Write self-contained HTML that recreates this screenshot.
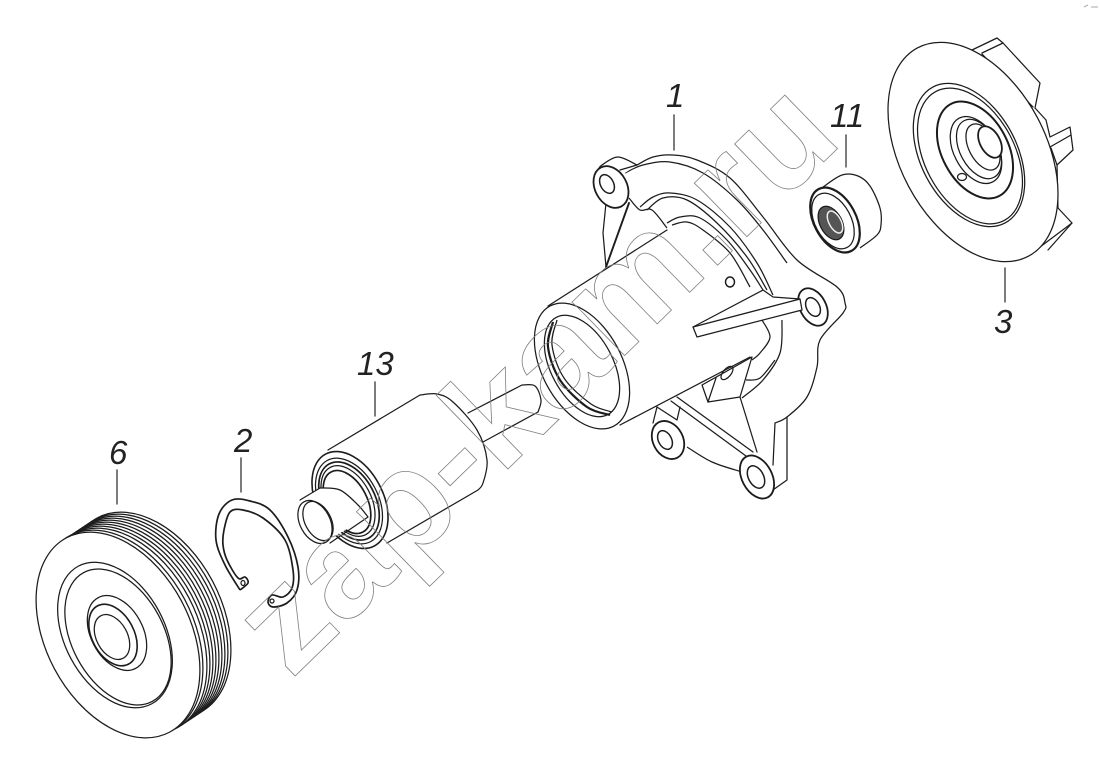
<!DOCTYPE html>
<html><head><meta charset="utf-8"><style>
html,body{margin:0;padding:0;background:#fff}
svg{display:block}
.l polyline,.l polygon,.l ellipse,.l line{stroke:#1c1c1c;stroke-width:1.25;stroke-linejoin:round;stroke-linecap:round}
.l polyline{fill:none}
.w{fill:#fff}
.n{fill:none}
.l .f{stroke:none;fill:#fff}
text.lab{font-family:"Liberation Sans",sans-serif;font-style:italic;font-size:33px;fill:#222}
text.wm{font-family:"Liberation Sans",sans-serif;font-weight:bold;font-size:142px;fill:none;stroke:#808080;stroke-width:.8}
</style></head><body>
<svg width="1100" height="766" viewBox="0 0 1100 766" xmlns="http://www.w3.org/2000/svg">
<rect width="1100" height="766" fill="#fff"/>
<g class="l">
<!-- Impeller 3 -->
<polygon class="w" points="972,50 997,38 1003,43 1040,83 1035,108 1046,120 1050,137 1070,127 1073,150 1057,165 1058,208 1072,223 1040,247 1000,200"/>
<polyline points="982,53 1003,43"/>
<polyline points="982,54 1033,107"/>
<polyline points="1050,147 1071,135"/>
<polyline points="1051,148 1057,165"/>
<polyline points="1048,250 1072,223"/>
<ellipse class="w" cx="973" cy="152" rx="118" ry="73" transform="rotate(62 973 152)"/>
<ellipse class="n" cx="969" cy="155" rx="77" ry="48" transform="rotate(62 969 155)"/>
<ellipse class="n" cx="970" cy="156" rx="73" ry="45" transform="rotate(62 970 156)"/>
<ellipse class="n" cx="975" cy="150" rx="52" ry="33" style="stroke-width:2" transform="rotate(62 975 150)"/>
<ellipse class="n" cx="976" cy="150" rx="36" ry="22" transform="rotate(62 976 150)"/>
<ellipse class="n" cx="979" cy="149" rx="32" ry="19" transform="rotate(62 979 149)"/>
<ellipse class="n" cx="983" cy="147" rx="25" ry="14" transform="rotate(62 983 147)"/>
<ellipse class="w" cx="990" cy="142" rx="17" ry="10" style="stroke-width:1.8" transform="rotate(62 990 142)"/>
<ellipse class="w" cx="962" cy="177" rx="4.5" ry="3.5"/>

<!-- Seal 11 -->
<polyline class="s w" points="823,187 842,175 858,176 870,186 880,208 881,225 877,235 860,248"/>
<ellipse class="w" cx="835" cy="220" rx="35" ry="21" style="stroke-width:2.2" transform="rotate(62 835 220)"/>
<ellipse class="n" cx="833" cy="221" rx="30" ry="18" transform="rotate(62 833 221)"/>
<ellipse cx="831" cy="223" rx="18" ry="11" fill="#555" transform="rotate(62 831 223)"/>
<ellipse class="n" cx="835" cy="222" rx="12" ry="6" style="stroke:#eee;stroke-width:1.5" transform="rotate(62 835 222)"/>

<!-- Housing 1 flange -->
<polygon class="f" points="602,165 618,157 653,157 697,160 730,178 763,217 797,260 837,287 845,303 843,313 820,340 817,367 807,397 787,417 787,480 763,497 742,472 687,447 667,460 653,440 653,423 657,407 650,300 620,220"/>
<polyline class="s" points="637,165 653,157 673,155 697,160 730,178 763,217 797,260 837,287 845,303 843,313 820,340 817,367 807,397 787,417 775,423"/>
<polyline points="775,423 773,465"/>
<polyline points="787,417 787,480 763,497"/>
<polyline class="s" points="625,173 643,165 670,162 703,173 737,200 763,230 787,263"/>
<polyline class="s" points="640,207 653,197 670,193 697,200 730,227 757,263 773,295"/>
<polyline class="s" points="647,210 663,198 687,200 717,223 747,257 767,290"/>
<polyline class="s" points="667,223 680,217 700,218 727,240 750,270 763,290"/>
<polyline class="s" points="672,225 687,222 703,230 730,253 750,287"/>
<polyline class="s" points="782,320 780,353 763,380 742,398"/>
<polyline class="s" points="762,320 770,337 760,353 752,360"/>
<polyline class="s" points="775,360 760,378 746,380"/>
<polyline points="677,397 753,452"/>
<polyline points="671,401 746,456"/>
<polyline points="740,397 757,452"/>
<polyline class="s" points="687,447 712,462 742,472"/>
<polyline points="657,407 677,420 680,407"/>
<polyline points="653,423 657,407"/>
<!-- lugs -->
<polygon class="f" points="596,172 602,165 618,157 637,165 625,173 629,203 606,205"/>
<polyline class="s" points="598,170 602,165 618,157 637,165"/>
<polyline points="620,170 637,165"/>
<polyline points="606,203 603,233 606,267"/>
<polyline points="629,203 606,267" style="stroke-width:1.9"/>
<polyline class="s" points="629,198 640,210 652,210 667,228"/>
<ellipse class="w" cx="611" cy="187" rx="22" ry="16" style="stroke-width:1.8" transform="rotate(62 611 187)"/>
<ellipse class="n" cx="607" cy="184" rx="10" ry="6.5" style="stroke-width:1.5" transform="rotate(62 607 184)"/>
<ellipse class="w" cx="813" cy="307" rx="20" ry="13" style="stroke-width:1.8" transform="rotate(62 813 307)"/>
<ellipse class="n" cx="813" cy="307" rx="10" ry="6.5" style="stroke-width:1.5" transform="rotate(62 813 307)"/>
<ellipse class="w" cx="668" cy="440" rx="20" ry="15" style="stroke-width:1.8" transform="rotate(62 668 440)"/>
<ellipse class="n" cx="665" cy="440" rx="10" ry="6.5" style="stroke-width:1.5" transform="rotate(62 665 440)"/>
<ellipse class="w" cx="757" cy="477" rx="23" ry="15" style="stroke-width:1.8" transform="rotate(62 757 477)"/>
<ellipse class="n" cx="756" cy="477" rx="12" ry="7.5" style="stroke-width:1.5" transform="rotate(62 756 477)"/>

<!-- Housing cylinder -->
<polygon class="f" points="548,306 667,230 700,235 730,265 752,295 752,357 620,425"/>
<line x1="548" y1="306" x2="667" y2="230"/>
<line x1="620" y1="425" x2="750" y2="357"/>
<polygon class="w" points="702,385 752,357 740,397 708,402"/>
<ellipse class="n" cx="727" cy="373" rx="8" ry="4" transform="rotate(-50 727 373)"/>
<line x1="716" y1="378" x2="708" y2="402"/>
<ellipse cx="730" cy="282" rx="4.5" ry="5" class="n" style="stroke-width:1.5"/>
<ellipse class="w" cx="582" cy="366" rx="68" ry="40" transform="rotate(62 582 366)"/>
<ellipse class="n" cx="582" cy="366" rx="55" ry="31" transform="rotate(62 582 366)"/>
<polyline class="s" style="stroke-width:2.2" points="553,322 548,347 560,380 587,407 610,415"/>
<polyline class="s" points="557,320 552,345 564,378 591,404 612,412"/>
<!-- fin -->
<polygon class="w" points="693,327 763,290 773,297 800,299 802,310 697,337"/>
<line x1="693" y1="327" x2="800" y2="299"/>

<!-- Shaft 13: far end -->
<polygon class="f" points="468,413 522,385 541,400 538,412 483,442"/>
<line x1="468" y1="413" x2="522" y2="385"/>
<line x1="483" y1="442" x2="538" y2="412"/>
<polyline class="s" points="522,385 535,386 541,400 538,412"/>
<!-- body -->
<polygon class="f" points="328,450 420,395 437,394 453,402 477,430 487,460 483,483 478,490 387,543"/>
<line x1="328" y1="450" x2="420" y2="395"/>
<line x1="387" y1="543" x2="478" y2="490"/>
<polyline class="s" points="420,395 437,394 453,402 477,430 487,460 483,483 478,490"/>
<ellipse class="w" cx="350" cy="500" rx="52" ry="33" style="stroke-width:1.6" transform="rotate(62 350 500)"/>
<ellipse class="n" cx="349" cy="501" rx="46" ry="29" transform="rotate(62 349 501)"/>
<ellipse class="n" cx="349" cy="501" rx="42" ry="26" style="stroke-width:1.7" transform="rotate(62 349 501)"/>
<ellipse class="n" cx="348" cy="501" rx="38" ry="23" transform="rotate(62 348 501)"/>
<ellipse class="n" cx="347" cy="502" rx="34" ry="20" style="stroke-width:1.7" transform="rotate(62 347 502)"/>
<!-- stub -->
<polygon class="f" points="305,497 320,488 340,490 358,505 368,517 333,537"/>
<line x1="300" y1="500" x2="320" y2="488"/>
<line x1="330" y1="543" x2="368" y2="517"/>
<polyline class="s" points="320,488 340,490 358,505 368,517"/>
<ellipse class="w" cx="315" cy="522" rx="23" ry="15" transform="rotate(62 315 522)"/>
<ellipse class="n" cx="318" cy="521" rx="21" ry="13" transform="rotate(62 318 521)"/>

<!-- Snap ring 2 -->
<polyline class="s" style="stroke-width:1.7" points="240,590 225,565 216,540 219,514 232,500 250,501 270,510 288,537 298,567 297,590 287,603 273,607 268,602 272,595 283,597 292,588 293,570 285,540 263,518 243,510 230,512 224,530 223,545 227,560 238,578 245,577 248,583 240,590"/>
<ellipse class="n" cx="243" cy="583" rx="2" ry="2.5"/>
<ellipse class="n" cx="272" cy="601" rx="2" ry="2"/>

<!-- Pulley 6 -->
<ellipse class="w" cx="149" cy="615" rx="110" ry="72" transform="rotate(62 149 615)"/>
<ellipse class="w" cx="146" cy="617" rx="110" ry="72" transform="rotate(62 146 617)"/>
<ellipse class="w" cx="143" cy="619" rx="110" ry="72" transform="rotate(62 143 619)"/>
<ellipse class="w" cx="140" cy="621" rx="110" ry="72" transform="rotate(62 140 621)"/>
<ellipse class="w" cx="137" cy="623" rx="110" ry="72" transform="rotate(62 137 623)"/>
<ellipse class="w" cx="134" cy="625" rx="110" ry="72" transform="rotate(62 134 625)"/>
<ellipse class="w" cx="131" cy="627" rx="110" ry="72" transform="rotate(62 131 627)"/>
<ellipse class="w" cx="128" cy="629" rx="110" ry="72" transform="rotate(62 128 629)"/>
<ellipse class="w" cx="125" cy="631" rx="110" ry="72" transform="rotate(62 125 631)"/>
<ellipse class="w" cx="121" cy="633" rx="110" ry="72" transform="rotate(62 121 633)"/>
<ellipse class="w" cx="118" cy="635" rx="110" ry="72" transform="rotate(62 118 635)"/>
<ellipse class="n" cx="115" cy="635" rx="78" ry="50" transform="rotate(62 115 635)"/>
<ellipse class="n" cx="118" cy="637" rx="73" ry="46" transform="rotate(62 118 637)"/>
<ellipse class="n" cx="117" cy="633" rx="40" ry="26" transform="rotate(62 117 633)"/>
<ellipse class="n" cx="113" cy="635" rx="33" ry="21" style="stroke-width:1.6" transform="rotate(62 113 635)"/>
<ellipse class="n" cx="112" cy="637" rx="24" ry="15.5" transform="rotate(62 112 637)"/>

<!-- Leaders -->
<line x1="674" y1="115" x2="674" y2="150" style="stroke-width:1.4;stroke:#444"/>
<line x1="846" y1="135" x2="846" y2="167" style="stroke-width:1.4;stroke:#444"/>
<line x1="1005" y1="268" x2="1005" y2="302" style="stroke-width:1.4;stroke:#444"/>
<line x1="375" y1="382" x2="375" y2="416" style="stroke-width:1.4;stroke:#444"/>
<line x1="241" y1="458" x2="241" y2="492" style="stroke-width:1.4;stroke:#444"/>
<line x1="117" y1="470" x2="117" y2="504" style="stroke-width:1.4;stroke:#444"/>
</g>
<text class="wm" transform="translate(291 680) rotate(-44.2)" textLength="772" lengthAdjust="spacingAndGlyphs">zap-kam.ru</text>
<text class="lab" x="666" y="107">1</text>
<text class="lab" x="830" y="127">11</text>
<text class="lab" x="994" y="333">3</text>
<text class="lab" x="357" y="375">13</text>
<text class="lab" x="234" y="452">2</text>
<text class="lab" x="109" y="464">6</text>
<line x1="1084" y1="7" x2="1088" y2="5" stroke="#aaa"/>
<line x1="1091" y1="7" x2="1098" y2="7" stroke="#aaa"/>
</svg>
<script>
document.querySelectorAll('polyline.s').forEach(function(e){
var p=e.getAttribute('points').trim().split(/\s+/).map(function(a){return a.split(',').map(Number)});
var d='M'+p[0];
for(var i=0;i<p.length-1;i++){
var a=p[Math.max(i-1,0)],b=p[i],c=p[i+1],f=p[Math.min(i+2,p.length-1)];
d+='C'+[b[0]+(c[0]-a[0])/6,b[1]+(c[1]-a[1])/6,c[0]-(f[0]-b[0])/6,c[1]-(f[1]-b[1])/6,c[0],c[1]].join(' ');
}
var q=document.createElementNS('http://www.w3.org/2000/svg','path');
q.setAttribute('d',d);
q.setAttribute('fill',e.classList.contains('w')?'#fff':'none');
q.setAttribute('stroke','#1c1c1c');
q.setAttribute('stroke-width',e.style.strokeWidth||'1.25');
e.parentNode.replaceChild(q,e);
});
</script>
</body></html>
